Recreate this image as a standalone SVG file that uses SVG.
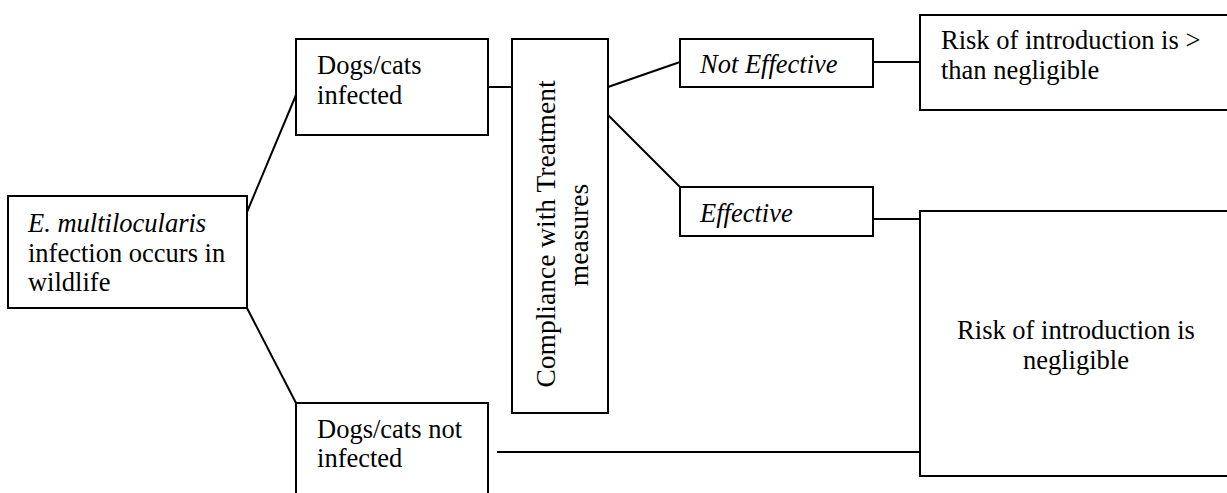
<svg xmlns="http://www.w3.org/2000/svg" width="1227" height="493" viewBox="0 0 1227 493">
<style>
.box{fill:#fff;stroke:#000;stroke-width:2}
.ln{stroke:#000;stroke-width:2;fill:none}
</style>
<rect width="1227" height="493" fill="#fff"/>
<g id="connectors">
<line class="ln" x1="247" y1="212" x2="296" y2="95"/>
<line class="ln" x1="247" y1="308" x2="296" y2="403"/>
<line class="ln" x1="488" y1="87" x2="512" y2="87"/>
<line class="ln" x1="608" y1="87" x2="680" y2="62"/>
<line class="ln" x1="608" y1="115" x2="680" y2="187"/>
<line class="ln" x1="873" y1="62" x2="920" y2="62"/>
<line class="ln" x1="873" y1="219" x2="920" y2="219"/>
<line class="ln" x1="497" y1="452" x2="920" y2="452"/>
</g>
<g font-family="Liberation Serif, Times New Roman, serif" font-size="26.5" fill="#000" text-anchor="middle">
<g id="wildlife">
<rect class="box" x="8" y="196" width="239" height="112"/>
<text x="117.1" y="232" font-style="italic">E. multilocularis</text>
<text x="126.6" y="262">infection occurs in</text>
<text x="69.2" y="291">wildlife</text>
</g>
<g id="infected">
<rect class="box" x="296" y="39" width="192" height="96"/>
<text x="369.3" y="74">Dogs/cats</text>
<text x="359.7" y="104">infected</text>
</g>
<g id="not-infected">
<rect class="box" x="296" y="403" width="192" height="100"/>
<text x="389.5" y="438">Dogs/cats not</text>
<text x="359.7" y="467">infected</text>
</g>
<g id="compliance">
<rect class="box" x="512" y="39" width="96" height="374"/>
<text transform="translate(555,234) rotate(-90)" font-size="27.5">Compliance with Treatment</text>
<text transform="translate(588,235) rotate(-90)" font-size="27.5">measures</text>
</g>
<g id="not-effective">
<rect class="box" x="680" y="39" width="193" height="48"/>
<text x="768.8" y="73" font-style="italic">Not Effective</text>
</g>
<g id="effective">
<rect class="box" x="680" y="187" width="193" height="49"/>
<text x="746.4" y="222" font-style="italic">Effective</text>
</g>
<g id="risk-high">
<rect class="box" x="920" y="15" width="320" height="95"/>
<text x="1070.7" y="49">Risk of introduction is &gt;</text>
<text x="1020.1" y="79">than negligible</text>
</g>
<g id="risk-negligible">
<rect class="box" x="920" y="211" width="320" height="265"/>
<text x="1076" y="339">Risk of introduction is</text>
<text x="1076" y="369">negligible</text>
</g>
</g>
</svg>
